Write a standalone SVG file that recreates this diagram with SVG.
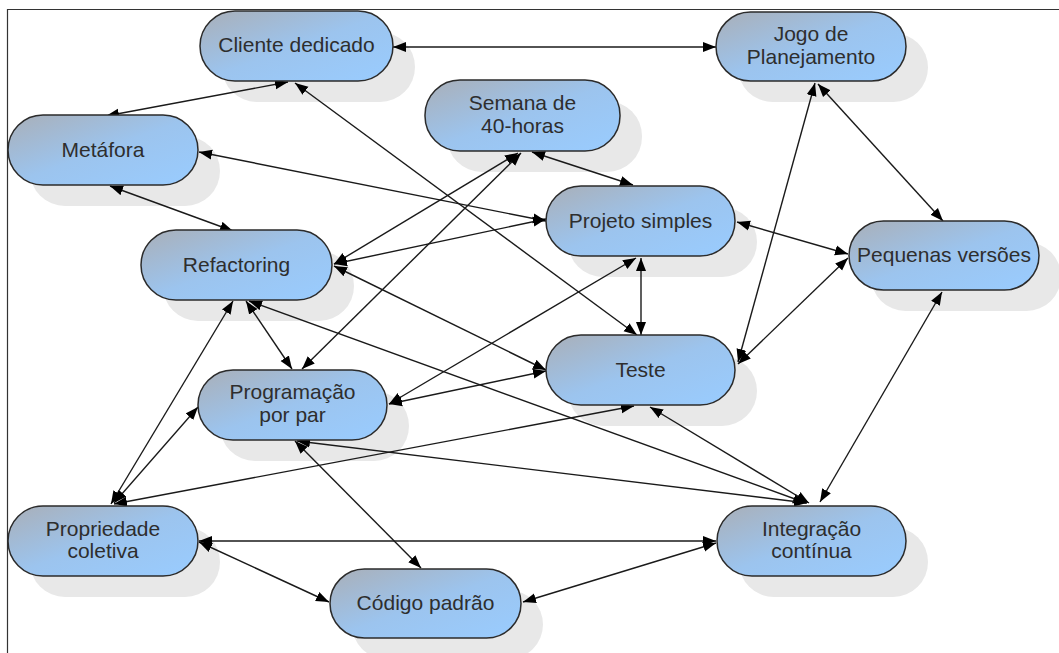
<svg xmlns="http://www.w3.org/2000/svg" width="1059" height="653" viewBox="0 0 1059 653">
<style>
.sh{fill:#e8e8e8;stroke:none}
.nd{fill:url(#g);stroke:#2b2b2b;stroke-width:1.5}
.t{font-family:"Liberation Sans",Arial,sans-serif;font-size:21px;fill:#2e2e2e;text-anchor:middle}
.e{stroke:#1a1a1a;stroke-width:1.4;fill:none;marker-start:url(#a);marker-end:url(#a)}
</style>
<defs>
<linearGradient id="g" x1="0" y1="0" x2="1" y2="1">
<stop offset="0" stop-color="#a9afb8"/>
<stop offset="0.5" stop-color="#9cc4ee"/>
<stop offset="1" stop-color="#99ccff"/>
</linearGradient>
<marker id="a" markerUnits="userSpaceOnUse" markerWidth="14" markerHeight="11" refX="13" refY="5" orient="auto-start-reverse" viewBox="0 0 14 10">
<path d="M0,0 L13,5 L0,10 z" fill="#000"/>
</marker>
</defs>
<rect width="1059" height="653" fill="#fff"/>
<path d="M7.5,653 V9.5 H1059" fill="none" stroke="#333" stroke-width="1.2"/>

<g id="shadows">
<rect class="sh" x="222" y="32" width="193" height="70" rx="35"/>
<rect class="sh" x="30" y="136" width="190" height="70" rx="35"/>
<rect class="sh" x="163" y="251" width="191" height="70" rx="35"/>
<rect class="sh" x="447" y="101" width="195" height="71" rx="35"/>
<rect class="sh" x="738" y="33" width="190" height="69" rx="34.5"/>
<rect class="sh" x="568" y="207" width="189" height="70" rx="35"/>
<rect class="sh" x="871" y="242" width="190" height="69" rx="34.5"/>
<rect class="sh" x="568" y="356" width="189" height="70" rx="35"/>
<rect class="sh" x="220" y="391" width="189" height="70" rx="35"/>
<rect class="sh" x="30" y="527" width="190" height="70" rx="35"/>
<rect class="sh" x="352" y="590" width="191" height="69" rx="34.5"/>
<rect class="sh" x="739" y="527" width="189" height="70" rx="35"/>
</g>

<g id="connectors">
<line class="e" x1="393" y1="47" x2="716" y2="47"/>
<line class="e" x1="288" y1="82" x2="106" y2="116"/>
<line class="e" x1="295" y1="83" x2="637" y2="335"/>
<line class="e" x1="199" y1="152" x2="546" y2="221"/>
<line class="e" x1="110" y1="186" x2="233" y2="231"/>
<line class="e" x1="334" y1="264" x2="518" y2="153"/>
<line class="e" x1="334" y1="264" x2="546" y2="219"/>
<line class="e" x1="334" y1="266" x2="546" y2="370"/>
<line class="e" x1="249" y1="301" x2="806" y2="503"/>
<line class="e" x1="246" y1="301" x2="292" y2="369"/>
<line class="e" x1="521" y1="153" x2="302" y2="369"/>
<line class="e" x1="532" y1="152" x2="633" y2="185"/>
<line class="e" x1="233" y1="301" x2="111" y2="504"/>
<line class="e" x1="114" y1="503" x2="198" y2="407"/>
<line class="e" x1="114" y1="504" x2="634" y2="406"/>
<line class="e" x1="199" y1="541" x2="716" y2="541"/>
<line class="e" x1="199" y1="542" x2="329" y2="602"/>
<line class="e" x1="295" y1="441" x2="421" y2="568"/>
<line class="e" x1="523" y1="602" x2="716" y2="543"/>
<line class="e" x1="389" y1="404" x2="636" y2="258"/>
<line class="e" x1="389" y1="404" x2="546" y2="371"/>
<line class="e" x1="297" y1="441" x2="807" y2="503"/>
<line class="e" x1="641" y1="258" x2="641" y2="335"/>
<line class="e" x1="650" y1="407" x2="809" y2="503"/>
<line class="e" x1="738" y1="362" x2="815" y2="83"/>
<line class="e" x1="738" y1="364" x2="848" y2="258"/>
<line class="e" x1="737" y1="222" x2="848" y2="254"/>
<line class="e" x1="818" y1="84" x2="943" y2="221"/>
<line class="e" x1="942" y1="292" x2="820" y2="502"/>
</g>

<g id="n-cliente"><rect class="nd" x="200" y="11" width="193" height="70" rx="35"/><text class="t" x="296.5" y="52">Cliente dedicado</text></g>
<g id="n-metafora"><rect class="nd" x="8" y="115" width="190" height="70" rx="35"/><text class="t" x="103" y="157">Metáfora</text></g>
<g id="n-refactoring"><rect class="nd" x="141" y="230" width="191" height="70" rx="35"/><text class="t" x="236.5" y="272">Refactoring</text></g>
<g id="n-semana"><rect class="nd" x="425" y="80" width="195" height="71" rx="35"/><text class="t" x="522.5" y="110">Semana de</text><text class="t" x="522.5" y="133">40-horas</text></g>
<g id="n-jogo"><rect class="nd" x="716" y="12" width="190" height="69" rx="34.5"/><text class="t" x="811" y="41">Jogo de</text><text class="t" x="811" y="64">Planejamento</text></g>
<g id="n-projeto"><rect class="nd" x="546" y="186" width="189" height="70" rx="35"/><text class="t" x="640.5" y="228">Projeto simples</text></g>
<g id="n-pequenas"><rect class="nd" x="849" y="221" width="190" height="69" rx="34.5"/><text class="t" x="944" y="262">Pequenas versões</text></g>
<g id="n-teste"><rect class="nd" x="546" y="335" width="189" height="70" rx="35"/><text class="t" x="640.5" y="377">Teste</text></g>
<g id="n-programacao"><rect class="nd" x="198" y="370" width="189" height="70" rx="35"/><text class="t" x="292.5" y="399">Programação</text><text class="t" x="292.5" y="422">por par</text></g>
<g id="n-propriedade"><rect class="nd" x="8" y="506" width="190" height="70" rx="35"/><text class="t" x="103" y="536">Propriedade</text><text class="t" x="103" y="558">coletiva</text></g>
<g id="n-codigo"><rect class="nd" x="330" y="569" width="191" height="69" rx="34.5"/><text class="t" x="425.5" y="610">Código padrão</text></g>
<g id="n-integracao"><rect class="nd" x="717" y="506" width="189" height="70" rx="35"/><text class="t" x="811.5" y="536">Integração</text><text class="t" x="811.5" y="558">contínua</text></g>
</svg>
